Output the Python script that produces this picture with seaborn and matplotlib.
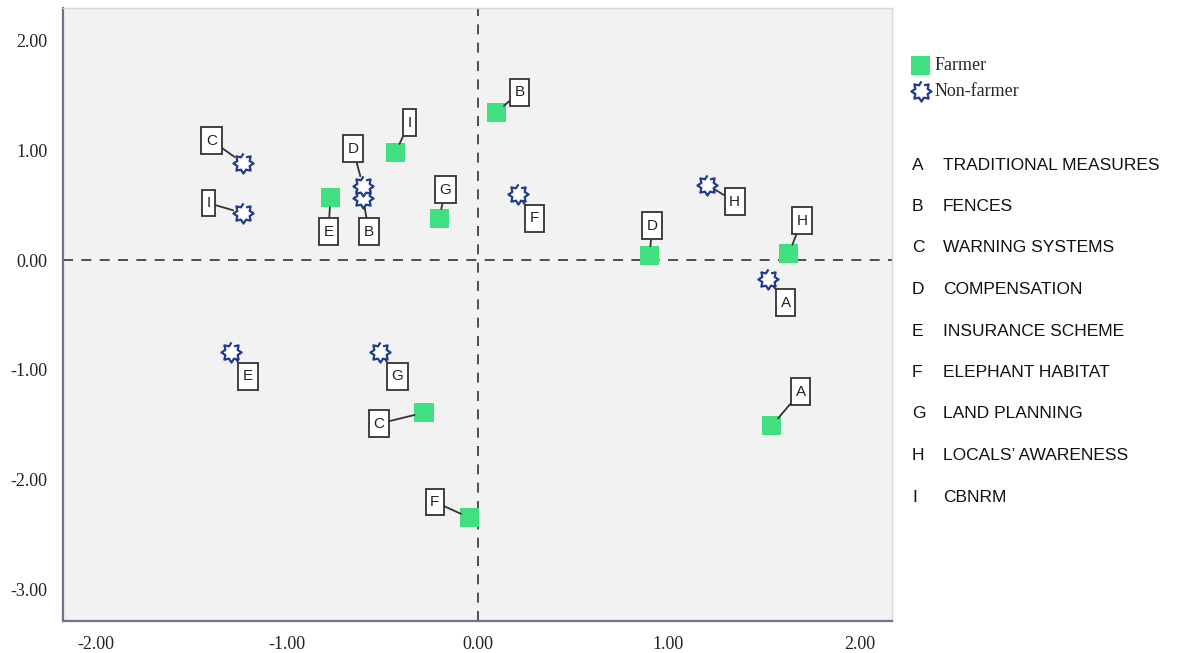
import numpy as np
import pandas as pd
import matplotlib
matplotlib.use("Agg")
import matplotlib.pyplot as plt
from matplotlib.path import Path
import seaborn as sns

# item labels shared by both groups
items = ['A', 'B', 'C', 'D', 'E', 'F', 'G', 'H', 'I']
item_names = ['TRADITIONAL MEASURES', 'FENCES', 'WARNING SYSTEMS', 'COMPENSATION',
              'INSURANCE SCHEME', 'ELEPHANT HABITAT', 'LAND PLANNING',
              "LOCALS\u2019 AWARENESS", 'CBNRM']

# coordinates (order A..I)
farmer_x = [1.54, 0.10, -0.28, 0.90, -0.77, -0.04, -0.20, 1.63, -0.43]
farmer_y = [-1.51, 1.35, -1.39, 0.04, 0.57, -2.35, 0.38, 0.06, 0.98]
nonfarmer_x = [1.52, -0.60, -1.23, -0.60, -1.29, 0.21, -0.51, 1.20, -1.23]
nonfarmer_y = [-0.17, 0.57, 0.89, 0.68, -0.84, 0.60, -0.84, 0.69, 0.43]

ticks = [-2, -1, 0, 1, 2]
yticks = [-3, -2, -1, 0, 1, 2]

# label box offsets in pixels (layout only)
farmer_off = {'A': (29, 34), 'B': (23, 20), 'C': (-45, -11), 'D': (3, 30), 'E': (-2, -34),
              'F': (-35, 16), 'G': (6, 29), 'H': (13, 33), 'I': (14, 30)}
nonfarmer_off = {'A': (18, -24), 'B': (6, -34), 'C': (-31, 22), 'D': (-10, 37), 'E': (17, -24),
                 'F': (17, -24), 'G': (17, -24), 'H': (28, -17), 'I': (-34, 10)}

df_f = pd.DataFrame({'x': farmer_x, 'y': farmer_y, 'label': items})
df_n = pd.DataFrame({'x': nonfarmer_x, 'y': nonfarmer_y, 'label': items})

# 8-pointed star outline marker
ang = np.linspace(0, 2 * np.pi, 17)[:-1] + np.pi / 2
rad = np.where(np.arange(16) % 2 == 0, 1.0, 0.66)
star = np.column_stack([rad * np.cos(ang), rad * np.sin(ang)])


def tall_box(x0, y0, width, height, mutation_size):
    # portrait label box like the original
    px, py = 0.3 * mutation_size, 0.42 * mutation_size
    x0, y0 = x0 - px, y0 - py
    x1, y1 = x0 + width + 2 * px, y0 + height + 2 * py
    return Path([(x0, y0), (x1, y0), (x1, y1), (x0, y1), (x0, y0)], closed=True)


sns.set_style("white")
fig = plt.figure(figsize=(11.96, 6.53), dpi=100)
ax = fig.add_axes([63 / 1196, 1 - 621 / 653, (892 - 63) / 1196, (621 - 8) / 653])
ax.set_facecolor('#f2f2f2')

green = '#40e080'
navy = '#1f3d8c'
sns.scatterplot(data=df_f, x='x', y='y', marker='s', s=190, color=green,
                edgecolor='none', linewidth=0, ax=ax, label='Farmer', zorder=3)
sns.scatterplot(data=df_n, x='x', y='y', marker=star, s=210, facecolor='white',
                edgecolor=navy, linewidth=1.6, ax=ax, label='Non-farmer', zorder=3)

ax.axhline(0, color='#333333', lw=1.2, ls=(0, (6, 5)), zorder=1)
ax.axvline(0, color='#333333', lw=1.2, ls=(0, (6, 5)), zorder=1)

box = dict(boxstyle=tall_box, fc='white', ec='#333333', lw=1.3)
for df, off in [(df_f, farmer_off), (df_n, nonfarmer_off)]:
    for _, r in df.iterrows():
        ax.annotate(r['label'], (r['x'], r['y']), xytext=off[r['label']],
                    textcoords='offset pixels', ha='center', va='center',
                    fontsize=11, family='Liberation Sans', color='#222222', bbox=box,
                    arrowprops=dict(arrowstyle='-', color='#333333', lw=1.3,
                                    shrinkA=0, shrinkB=7), zorder=4)

ax.set_xlim(-2.17, 2.17)
ax.set_ylim(-3.29, 2.30)
ax.set_xticks(ticks)
ax.set_yticks(yticks)
ax.set_xticklabels([f'{t:.2f}' for t in ticks], family='Liberation Serif', fontsize=13)
ax.set_yticklabels([f'{t:.2f}' for t in yticks], family='Liberation Serif', fontsize=13)
ax.tick_params(length=0, pad=11, colors='#222222')
ax.set_xlabel('')
ax.set_ylabel('')
for s in ['left', 'bottom']:
    ax.spines[s].set_color('#6b7589')
    ax.spines[s].set_linewidth(1.6)
for s in ['top', 'right']:
    ax.spines[s].set_color('#d3d7e0')
    ax.spines[s].set_linewidth(1.0)

ax.get_legend().remove()
h, l = ax.get_legend_handles_labels()
fig.legend(h, l, loc='upper left', bbox_to_anchor=(900 / 1196, 1 - 48 / 653),
           frameon=False, prop={'family': 'Liberation Serif', 'size': 13},
           handletextpad=0.1, borderpad=0, labelspacing=0.5, handlelength=1.3)

for i, (k, name) in enumerate(zip(items, item_names)):
    yy = 1 - (165 + i * 41.5) / 653
    fig.text(912 / 1196, yy, k, family='Liberation Sans', fontsize=12.5, va='center', color='#111111')
    fig.text(943 / 1196, yy, name, family='Liberation Sans', fontsize=12.5, va='center', color='#111111')

fig.savefig('out.png', dpi=100)
